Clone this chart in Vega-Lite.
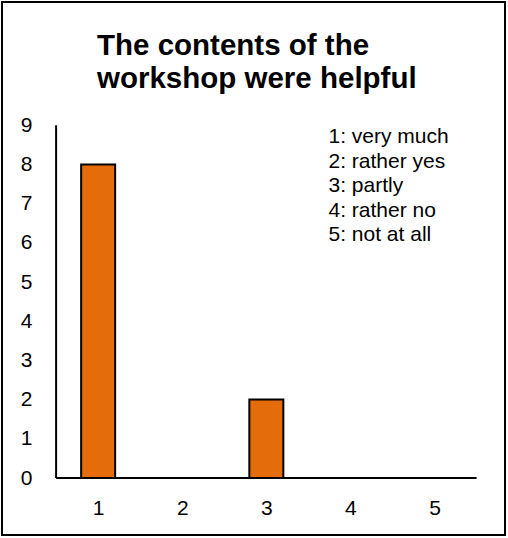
{
  "$schema": "https://vega.github.io/schema/vega-lite/v6.json",
  "width": 503,
  "height": 533,
  "autosize": {"type": "none"},
  "padding": {"left": 2, "top": 2, "right": 3, "bottom": 3},
  "background": "white",
  "title": {
    "text": ["The contents of the", "workshop were helpful"],
    "anchor": "start",
    "align": "left",
    "baseline": "top",
    "dx": 95,
    "offset": -92,
    "font": "Liberation Sans",
    "fontSize": 29.5,
    "fontWeight": "bold",
    "lineHeight": 33,
    "color": "black"
  },
  "data": {
    "values": [
      {"rating": 1, "count": 8},
      {"rating": 2, "count": 0},
      {"rating": 3, "count": 2},
      {"rating": 4, "count": 0},
      {"rating": 5, "count": 0}
    ]
  },
  "layer": [
    {
      "mark": {"type": "bar", "width": 34, "color": "#E46C0A", "stroke": "black", "strokeWidth": 2},
      "encoding": {
        "x": {
          "field": "rating",
          "type": "quantitative",
          "scale": {"domain": [-0.0839, 5.7786], "nice": false, "zero": false},
          "axis": {
            "values": [1, 2, 3, 4, 5],
            "format": "d",
            "title": null,
            "grid": false,
            "domain": false,
            "ticks": false,
            "offset": -57,
            "labelPadding": 19,
            "labelFont": "Liberation Sans",
            "labelFontSize": 21,
            "labelColor": "black"
          }
        },
        "y": {
          "field": "count",
          "type": "quantitative",
          "scale": {"domain": [-1.454, 12.143], "nice": false, "zero": false},
          "axis": {
            "values": [0, 1, 2, 3, 4, 5, 6, 7, 8, 9],
            "title": null,
            "grid": false,
            "domain": false,
            "ticks": false,
            "offset": -50,
            "labelPadding": 20,
            "labelFont": "Liberation Sans",
            "labelFontSize": 21,
            "labelColor": "black"
          }
        }
      }
    },
    {
      "data": {"values": [{}]},
      "mark": {"type": "rule", "color": "black", "strokeWidth": 2},
      "encoding": {
        "x": {"datum": 0.5},
        "y": {"datum": 0},
        "y2": {"datum": 9}
      }
    },
    {
      "data": {"values": [{}]},
      "mark": {"type": "rule", "color": "black", "strokeWidth": 2},
      "encoding": {
        "x": {"datum": 0.5},
        "x2": {"datum": 5.5},
        "y": {"datum": 0}
      }
    },
    {
      "data": {"values": [{}]},
      "mark": {"type": "text", "align": "left", "baseline": "alphabetic", "font": "Liberation Sans", "fontSize": 21, "fontWeight": "normal", "lineHeight": 24.5, "color": "black"},
      "encoding": {
        "x": {"datum": 3.739},
        "y": {"datum": 8.546},
        "text": {"value": ["1: very much", "2: rather yes", "3: partly", "4: rather no", "5: not at all"]}
      }
    }
  ],
  "config": {
    "view": {"stroke": "black", "strokeWidth": 2}
  }
}
